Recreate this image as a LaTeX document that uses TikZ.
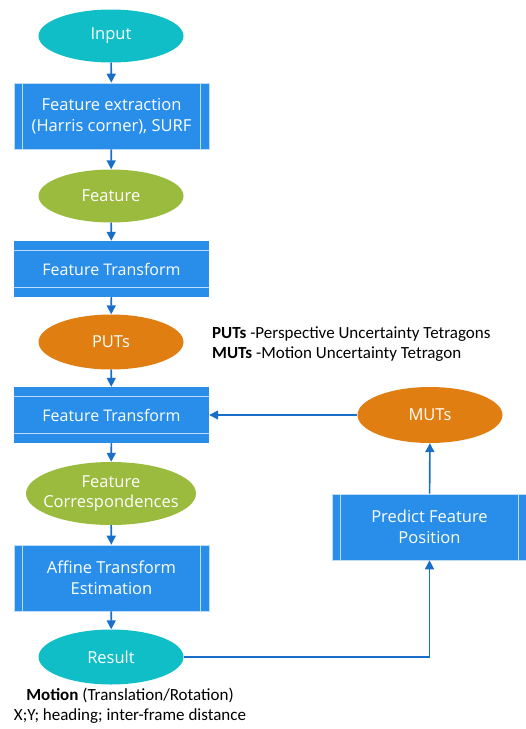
\documentclass[tikz,border=0pt]{standalone}
\usepackage{fontspec}
\setmainfont{Open Sans}
\newfontfamily\annfont{Carlito}
\usetikzlibrary{shapes.geometric,arrows.meta}
\definecolor{cyanfill}{RGB}{16,190,200}
\definecolor{greenfill}{RGB}{155,187,62}
\definecolor{orangefill}{RGB}{224,126,18}
\definecolor{boxblue}{RGB}{40,142,234}
\definecolor{arrowblue}{RGB}{24,110,200}
\definecolor{linelight}{RGB}{190,220,250}
\tikzset{
  ell/.style={ellipse, minimum width=145pt, minimum height=53pt, inner sep=0pt, text=white, align=center, font=\fontsize{16.5}{20}\selectfont},
  cyanell/.style={ell, fill=cyanfill},
  greenell/.style={ell, fill=greenfill},
  orangeell/.style={ell, fill=orangefill},
  pbox/.style={rectangle, fill=boxblue, draw=linelight, line width=0.6pt, minimum width=195pt, minimum height=66pt, inner sep=0pt, text=white, align=center, font=\fontsize{16.5}{21}\selectfont},
  hbox/.style={rectangle, fill=boxblue, minimum width=195pt, minimum height=56pt, inner sep=0pt, text=white, align=center, font=\fontsize{16}{20}\selectfont},
  arr/.style={draw=arrowblue, line width=1.6pt, -{Triangle[width=9pt,length=9pt]}},
  ann/.style={font=\annfont\fontsize{17}{20}\selectfont, align=left, inner sep=0pt}
}
\newcommand{\vlines}[1]{%
  \draw[linelight, line width=0.8pt] ([xshift=9pt]#1.north west) -- ([xshift=9pt]#1.south west);
  \draw[linelight, line width=0.8pt] ([xshift=-9pt]#1.north east) -- ([xshift=-9pt]#1.south east);}
\newcommand{\hlines}[1]{%
  \draw[linelight, line width=0.8pt] ([yshift=-10pt]#1.north west) -- ([yshift=-10pt]#1.north east);
  \draw[linelight, line width=0.8pt] ([yshift=10pt]#1.south west) -- ([yshift=10pt]#1.south east);}
\begin{document}
\begin{tikzpicture}[x=1pt,y=-1pt]
\useasboundingbox (0,0) rectangle (526,729);
\node[cyanell] (input) at (111,36) {Input};
\node[pbox] (fe) at (111.5,116) {Feature extraction\\(Harris corner), SURF};
\vlines{fe}
\node[greenell] (feat) at (111,196) {Feature};
\node[hbox] (ft1) at (111.5,269) {Feature Transform};
\hlines{ft1}
\node[orangeell, minimum height=55pt] (puts) at (111,342) {PUTs};
\node[hbox] (ft2) at (111.5,415) {Feature Transform};
\hlines{ft2}
\node[greenell, minimum width=170pt, minimum height=63pt, inner xsep=-9pt] (fc) at (111,493.5) {Feature\\Correspondences};
\node[pbox] (aff) at (111.5,578) {Affine Transform\\Estimation};
\vlines{aff}
\node[cyanell, minimum height=55pt] (res) at (111,657) {Result};
\node[orangeell, minimum height=56pt] (muts) at (430,415) {MUTs};
\node[pbox] (pred) at (429.5,527) {Predict Feature\\Position};
\vlines{pred}
\node[ann, anchor=west] (legend) at (212,344) {\textbf{PUTs} -Perspective Uncertainty Tetragons\\\textbf{MUTs} -Motion Uncertainty Tetragon};
\node[ann, align=center, anchor=north] (motion) at (130,688) {\textbf{Motion} (Translation/Rotation)\\X;Y; heading; inter-frame distance};
\draw[arr] (input) -- (fe);
\draw[arr] (fe) -- (feat);
\draw[arr] (feat) -- (ft1);
\draw[arr] (ft1) -- (puts);
\draw[arr] (puts) -- (ft2);
\draw[arr] (ft2) -- (fc);
\draw[arr] (fc) -- (aff);
\draw[arr] (aff) -- (res);
\draw[arr] (muts) -- (ft2);
\draw[arr] (pred) -- (muts);
\draw[arr] (res.east) -| (pred.south);
\end{tikzpicture}
\end{document}
